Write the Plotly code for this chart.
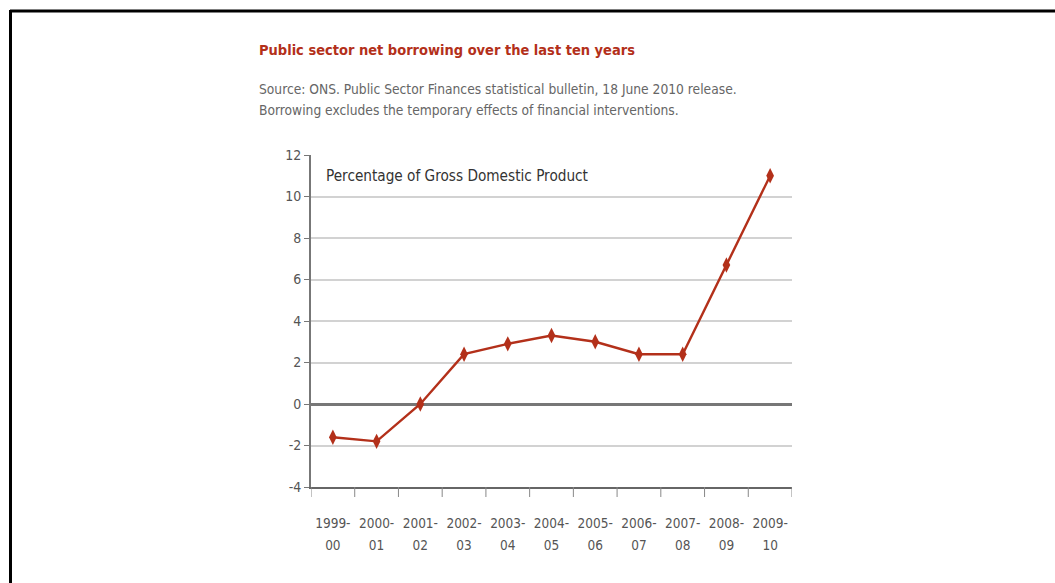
import plotly.graph_objects as go

years_top = ["1999-", "2000-", "2001-", "2002-", "2003-", "2004-",
             "2005-", "2006-", "2007-", "2008-", "2009-"]
years_bottom = ["00", "01", "02", "03", "04", "05", "06", "07", "08", "09", "10"]
borrowing = [-1.6, -1.8, 0.0, 2.4, 2.9, 3.3, 3.0, 2.4, 2.4, 6.7, 11.0]
y_ticks = [-4, -2, 0, 2, 4, 6, 8, 10, 12]
y_tick_text = ["-4", "-2", "0", "2", "4", "6", "8", "10", "12"]

title = "Public sector net borrowing over the last ten years"
source1 = "Source: ONS. Public Sector Finances statistical bulletin, 18 June 2010 release."
source2 = "Borrowing excludes the temporary effects of financial interventions."
inner_label = "Percentage of Gross Domestic Product"

W, H = 1055, 583
ML, MR, MT, MB = 311, 263, 155, 96
PW, PH = W - ML - MR, H - MT - MB

def px(x):
    return (x - ML) / PW

def py(y):
    return (H - MB - y) / PH

FONT = "DejaVu Sans Condensed"
RED = "#b3301a"
cats = list(range(len(years_top)))

fig = go.Figure()
fig.add_trace(go.Scatter(
    x=cats, y=borrowing, mode="lines+markers",
    line=dict(color=RED, width=2.4),
    marker=dict(symbol="diamond-tall", size=11, color=RED),
    showlegend=False, cliponaxis=False,
))
# invisible companion trace so the second (label) x axis is drawn
fig.add_trace(go.Scatter(
    x=cats, y=borrowing, xaxis="x2", yaxis="y", mode="markers",
    marker=dict(opacity=0), hoverinfo="skip", showlegend=False,
))

fig.update_layout(
    width=W, height=H,
    margin=dict(l=ML, r=MR, t=MT, b=MB),
    paper_bgcolor="white", plot_bgcolor="white",
    font=dict(family=FONT, color="#555"),
    xaxis=dict(
        range=[-0.5, 10.5], tickmode="array",
        tickvals=cats, ticktext=years_top,
        showgrid=False, zeroline=False,
        showline=True, linecolor="#666", linewidth=2,
        ticks="", tickfont=dict(size=13.5, color="#555"),
        ticklabelstandoff=23,
    ),
    xaxis2=dict(
        range=[-0.5, 10.5], tickmode="array", overlaying="x", side="bottom",
        anchor="y", tickvals=cats, ticktext=years_bottom,
        showgrid=False, zeroline=False, showline=False,
        ticks="", tickfont=dict(size=13.5, color="#555"),
        ticklabelstandoff=48,
    ),
    yaxis=dict(
        range=[-4, 12], tickmode="array", tickvals=y_ticks, ticktext=y_tick_text,
        showgrid=True, gridcolor="#d2d2d2", gridwidth=2,
        zeroline=True, zerolinecolor="#777", zerolinewidth=3,
        showline=True, linecolor="#777", linewidth=2,
        ticks="outside", ticklen=5, tickcolor="#777",
        tickfont=dict(size=14, color="#555"),
    ),
)

# x-axis category divider ticks
shapes = []
for i in range(len(years_top) + 1):
    xv = i - 0.5
    shapes.append(dict(type="line", xref="x", yref="paper", x0=xv, x1=xv,
                       y0=0, y1=-10 / PH, line=dict(color="#888", width=1)))
# frame lines (top and left)
shapes.append(dict(type="line", xref="paper", yref="paper",
                   x0=px(10), x1=px(1056), y0=py(11), y1=py(11),
                   line=dict(color="black", width=3)))
shapes.append(dict(type="line", xref="paper", yref="paper",
                   x0=px(10.5), x1=px(10.5), y0=py(10), y1=py(590),
                   line=dict(color="black", width=3)))
fig.update_layout(shapes=shapes)

fig.add_annotation(xref="paper", yref="paper", x=px(257), y=py(50),
                   xanchor="left", yanchor="middle", showarrow=False,
                   text="<b>" + title + "</b>",
                   font=dict(size=14.5, color=RED, family=FONT))
fig.add_annotation(xref="paper", yref="paper", x=px(257), y=py(89),
                   xanchor="left", yanchor="middle", showarrow=False,
                   text=source1, font=dict(size=13.7, color="#666", family=FONT))
fig.add_annotation(xref="paper", yref="paper", x=px(257), y=py(110),
                   xanchor="left", yanchor="middle", showarrow=False,
                   text=source2, font=dict(size=13.7, color="#666", family=FONT))
fig.add_annotation(xref="paper", yref="paper", x=px(324), y=py(176),
                   xanchor="left", yanchor="middle", showarrow=False,
                   text=inner_label, font=dict(size=15.2, color="#333", family=FONT))

fig.write_html("out.html")
